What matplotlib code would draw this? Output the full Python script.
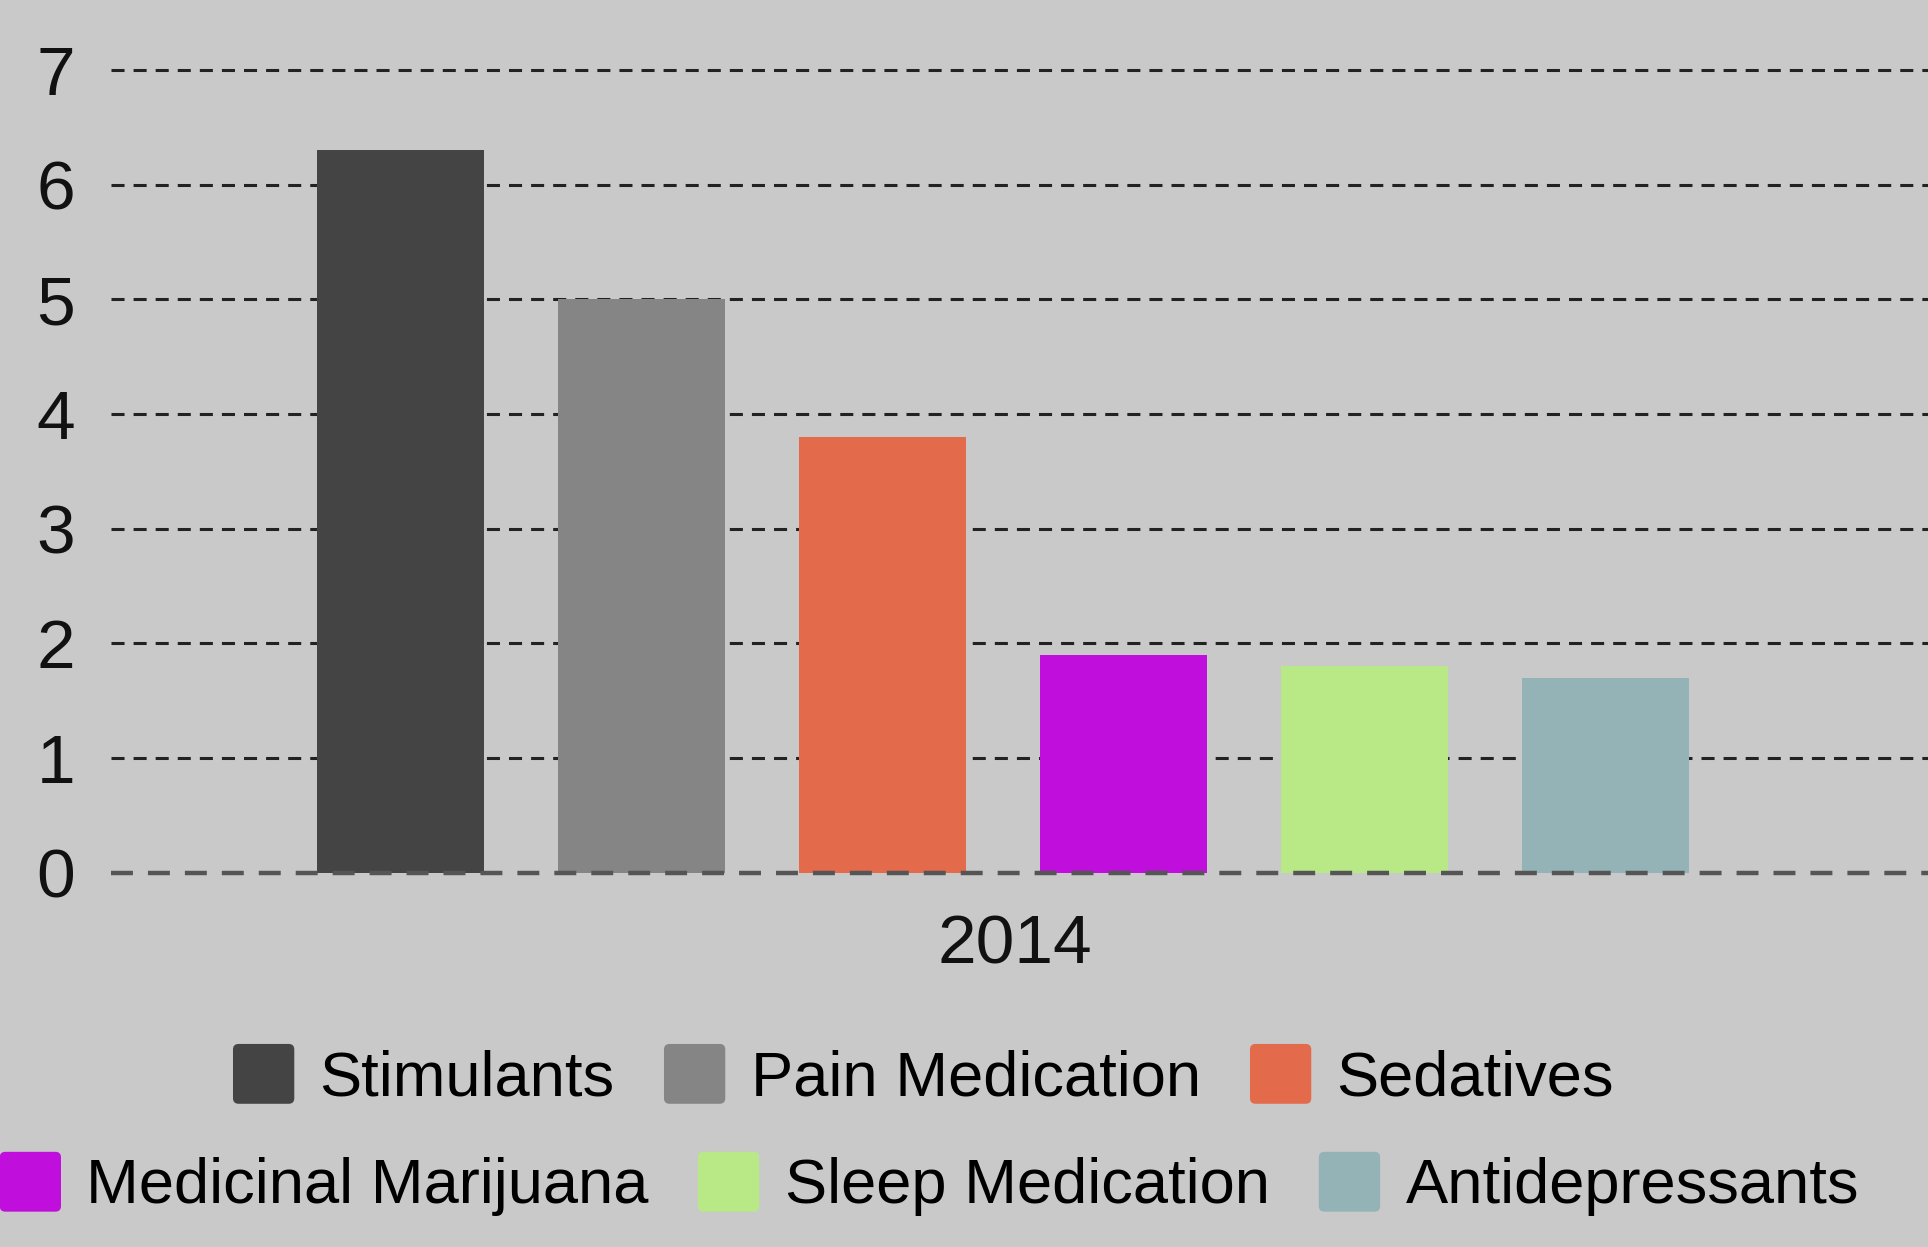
import matplotlib
matplotlib.use('Agg')
import matplotlib.pyplot as plt
from matplotlib.legend_handler import HandlerPatch
from matplotlib.patches import FancyBboxPatch, Rectangle
import numpy as np

# data
year = '2014'
drugs = ['Stimulants', 'Pain Medication', 'Sedatives',
         'Medicinal Marijuana', 'Sleep Medication', 'Antidepressants']
values = [6.3, 5.0, 3.8, 1.9, 1.8, 1.7]
colors = ['#444444', '#858585', '#e36a4a', '#c00fdc', '#b8e986', '#93b3b7']
yticks = [0, 1, 2, 3, 4, 5, 6, 7]

plt.rcParams['font.family'] = ['Liberation Sans', 'DejaVu Sans']
plt.rcParams['lines.scale_dashes'] = False
bg = '#c9c9c9'

fig = plt.figure(figsize=(19.28, 12.47), dpi=100, facecolor=bg)
ax = fig.add_axes([0.0576, 0.300, 0.9424, 0.6439], facecolor=bg)

pos = np.arange(len(values))
bars = []
for i in range(len(values)):
    b = ax.bar(pos[i], values[i], width=0.693, color=colors[i],
               label=drugs[i], zorder=2)
    bars.append(b[0])

ax.set_xlim(-1.199, 6.336)
ax.set_ylim(0, 7)
ax.set_yticks(yticks)
ax.set_yticklabels([str(t) for t in yticks])
ax.set_xticks([pos.mean() + 0.05])
ax.set_xticklabels([year])

# dashed grid behind bars, grey baseline on top
for t in yticks[1:]:
    ax.axhline(t, color='#222222', lw=2.2, dashes=(9.4, 6.5), zorder=1,
               clip_on=False)
ax.axhline(0, color='#555555', lw=3.2, dashes=(15.8, 10.8), zorder=3,
           clip_on=False)

for s in ax.spines.values():
    s.set_visible(False)
ax.tick_params(axis='y', length=0, pad=26, labelsize=50, labelcolor='#111111')
ax.tick_params(axis='x', length=0, pad=29, labelsize=50, labelcolor='#111111')


# legend swatches with slightly rounded corners
def rounded(legend, orig_handle, xdescent, ydescent, width, height, fontsize):
    return FancyBboxPatch((-xdescent, -ydescent), width, height,
                          boxstyle='round,pad=0,rounding_size=4')


leg_kw = dict(loc='center', ncol=3, frameon=False, fontsize=45.5,
              handlelength=0.97, handleheight=1.08, handletextpad=0.4,
              columnspacing=0.78, borderpad=0, borderaxespad=0,
              handler_map={Rectangle: HandlerPatch(patch_func=rounded)})
fig.legend(handles=bars[:3], labels=drugs[:3],
           bbox_to_anchor=(0.479, 0.137), **leg_kw)
fig.legend(handles=bars[3:], labels=drugs[3:],
           bbox_to_anchor=(0.482, 0.0505), **leg_kw)

fig.savefig('out.png', dpi=100, facecolor=bg)
